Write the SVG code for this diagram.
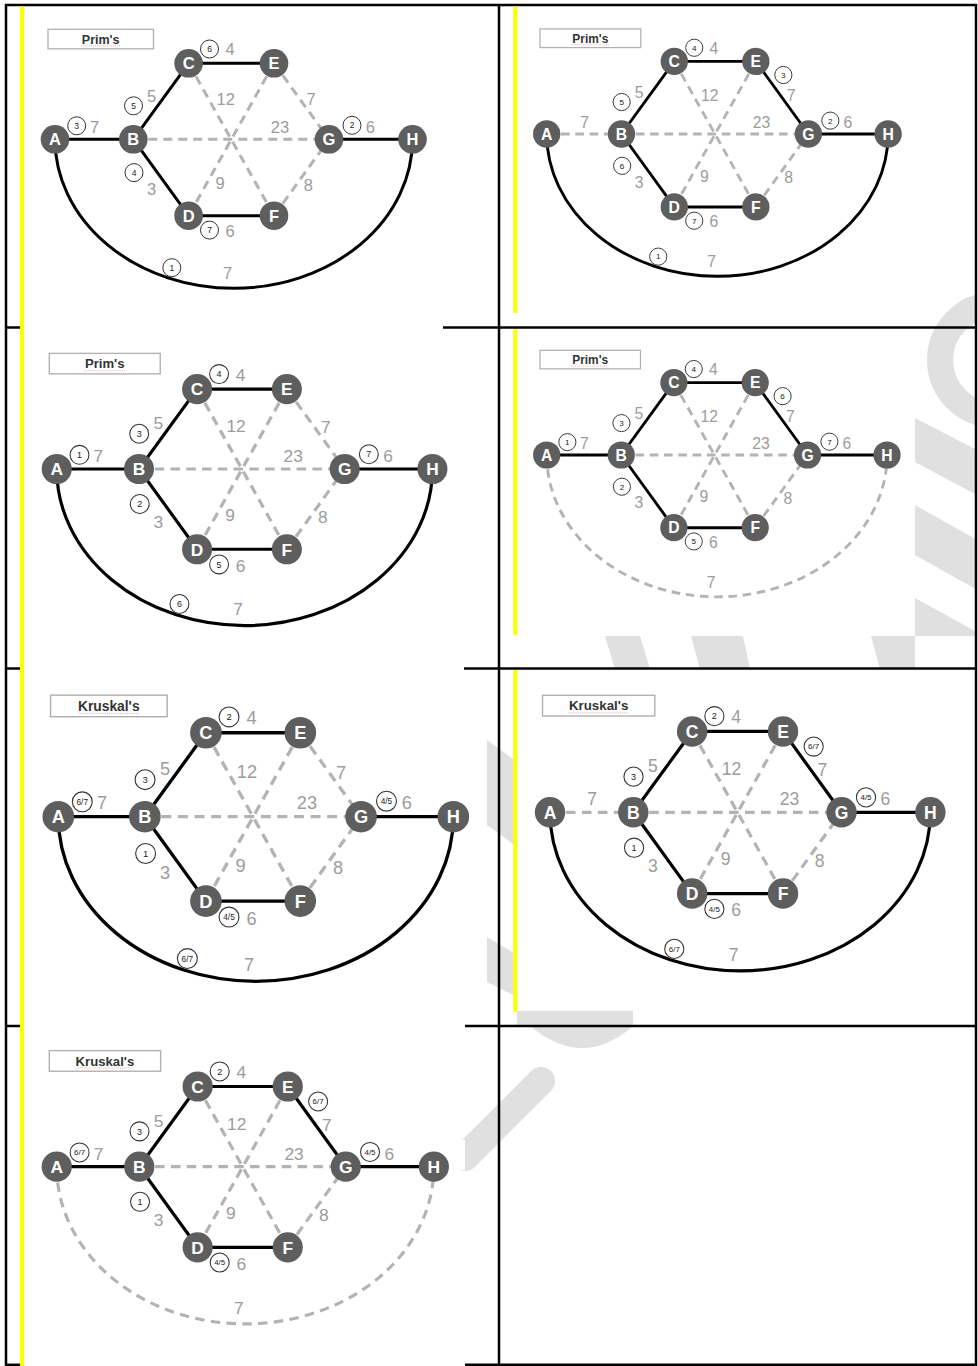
<svg xmlns="http://www.w3.org/2000/svg" width="978" height="1366" viewBox="0 0 978 1366">
<style>
.tb{stroke:#000;stroke-width:2.5;fill:none}
.yl{fill:#ffff00}
.wm{fill:#e0e0e0}
.s{stroke:#000;stroke-width:3;fill:none}
.d{stroke:#b3b3b3;stroke-width:3;stroke-dasharray:9 6;fill:none}
.n circle{fill:#5e5e5e}
.n text{fill:#fff;font-family:'Liberation Sans',Arial,sans-serif;font-weight:bold;font-size:16.5px;text-anchor:middle}
.w{fill:#9c9c9c;font-family:'Liberation Sans',Arial,sans-serif;font-size:16.5px;text-anchor:middle}
.k circle{fill:#fff;stroke:#333;stroke-width:1}
.k text{fill:#222;font-family:'Liberation Sans',Arial,sans-serif;font-size:8.5px;text-anchor:middle}
.k text.f{font-size:7.5px}
.bx rect{fill:#fff;stroke:#b0b0b0;stroke-width:1.3}
.bx text{fill:#333;font-family:'Liberation Sans',Arial,sans-serif;font-weight:bold;font-size:12.5px;text-anchor:middle}
.bx line{stroke:#e8a0a0;stroke-width:0.8;stroke-dasharray:1 1}
</style>
<defs>
<clipPath id="wmclip"><rect x="0" y="0" width="975" height="1366"/></clipPath>
</defs>
<rect width="978" height="1366" fill="#fff"/>
<g id="watermark" clip-path="url(#wmclip)">
<path d="M995,305 A55,55 0 1 0 995,415" fill="none" stroke="#e0e0e0" stroke-width="26"/>
<polygon class="wm" points="915,418 977,450 977,495 915,462"/>
<polygon class="wm" points="915,505 977,540 977,590 915,555"/>
<polygon class="wm" points="915,598 977,632 977,636 915,636"/>
<polygon class="wm" points="605,636 640,636 650,669 615,669"/>
<polygon class="wm" points="691,636 743,636 750,669 700,669"/>
<polygon class="wm" points="871,636 915,636 915,669 880,669"/>
<polygon class="wm" points="487,740 517,762 517,847 487,825"/>
<polygon class="wm" points="487,937 517,955 517,997 487,982"/>
<path class="wm" d="M517,1011 L633,1011 L633,1026 Q583,1070 530,1026 L517,1026 Z"/>
<path d="M541,1081 L465,1157" fill="none" stroke="#e0e0e0" stroke-width="28" stroke-linecap="round"/>
<rect x="440" y="1140" width="25" height="30" fill="#fff"/>
</g>
<g id="table">
<line class="tb" x1="5" y1="5" x2="977" y2="5"/>
<line class="tb" x1="6" y1="4" x2="6" y2="1366"/>
<line class="tb" x1="499" y1="4" x2="499" y2="1366"/>
<line class="tb" x1="976" y1="4" x2="976" y2="1366"/>
<line class="tb" x1="5" y1="327.5" x2="24" y2="327.5"/>
<line class="tb" x1="443" y1="327.5" x2="977" y2="327.5"/>
<line class="tb" x1="5" y1="668.5" x2="24" y2="668.5"/>
<line class="tb" x1="464" y1="668.5" x2="977" y2="668.5"/>
<line class="tb" x1="5" y1="1026" x2="24" y2="1026"/>
<line class="tb" x1="465" y1="1026" x2="977" y2="1026"/>
<line class="tb" x1="5" y1="1364.8" x2="24" y2="1364.8"/>
<line class="tb" x1="465" y1="1364.8" x2="977" y2="1364.8"/>
</g>
<g id="highlights">
<rect class="yl" x="20" y="6.5" width="4" height="1360"/>
<rect class="yl" x="513.3" y="6.5" width="4" height="306.5"/>
<rect class="yl" x="513.3" y="329" width="4" height="306"/>
<rect class="yl" x="513.3" y="670" width="4" height="342"/>
</g>

<g id="g1" transform="translate(55,139.3)">
<g class="bx"><rect x="-7" y="-110" width="105.5" height="19.5"/><text x="45.7" y="-95.8">Prim's</text><line x1="26" y1="-93.5" x2="65" y2="-93.5"/></g>
<g id="g1-connectors">
<path class="d" d="M133.6,-76L219,76.4M219,-76L133.6,76.4M78.3,0L274,0M219,-76L274,0M219,76.4L274,0"/>
<path class="s" d="M0,0L78.3,0M78.3,0L133.6,-76M78.3,0L133.6,76.4M133.6,-76L219,-76M133.6,76.4L219,76.4M274,0L357.5,0M0,0A178.75,149 0 0 0 357.5,0"/>
</g>
<g class="w"><text x="175" y="-84.2">4</text><text x="96.7" y="-37.8">5</text><text x="39.7" y="-6.7">7</text><text x="170.7" y="-34.8">12</text><text x="256" y="-34.2">7</text><text x="225" y="-6.7">23</text><text x="315.3" y="-6.7">6</text><text x="96.7" y="56.1">3</text><text x="165" y="49.8">9</text><text x="253.3" y="51.8">8</text><text x="175" y="97.8">6</text><text x="172.7" y="139.3">7</text></g>
<g class="k"><circle cx="154.5" cy="-90.3" r="9"/><text x="154.5" y="-87.3">6</text><circle cx="78.5" cy="-33.5" r="9"/><text x="78.5" y="-30.5">5</text><circle cx="21.7" cy="-13.5" r="9"/><text x="21.7" y="-10.5">3</text><circle cx="297" cy="-14" r="9"/><text x="297" y="-11">2</text><circle cx="79" cy="33.3" r="9"/><text x="79" y="36.3">4</text><circle cx="154.5" cy="90.8" r="9"/><text x="154.5" y="93.8">7</text><circle cx="116.8" cy="128.4" r="9"/><text x="116.8" y="131.4">1</text></g>
<g id="g1-A" class="n"><circle cx="0" cy="0" r="14.3"/><text x="0" y="6">A</text></g>
<g id="g1-B" class="n"><circle cx="78.3" cy="0" r="14.3"/><text x="78.3" y="6">B</text></g>
<g id="g1-C" class="n"><circle cx="133.6" cy="-76" r="14.3"/><text x="133.6" y="-70">C</text></g>
<g id="g1-E" class="n"><circle cx="219" cy="-76" r="14.3"/><text x="219" y="-70">E</text></g>
<g id="g1-D" class="n"><circle cx="133.6" cy="76.4" r="14.3"/><text x="133.6" y="82.4">D</text></g>
<g id="g1-F" class="n"><circle cx="219" cy="76.4" r="14.3"/><text x="219" y="82.4">F</text></g>
<g id="g1-G" class="n"><circle cx="274" cy="0" r="14.3"/><text x="274" y="6">G</text></g>
<g id="g1-H" class="n"><circle cx="357.5" cy="0" r="14.3"/><text x="357.5" y="6">H</text></g>
</g>

<g id="g2" transform="translate(546.7,134) scale(0.955)">
<g class="bx"><rect x="-7" y="-110" width="105.5" height="19.5"/><text x="45.7" y="-95.8">Prim's</text><line x1="26" y1="-93.5" x2="65" y2="-93.5"/></g>
<g id="g2-connectors">
<path class="d" d="M0,0L78.3,0M133.6,-76L219,76.4M219,-76L133.6,76.4M78.3,0L274,0M219,76.4L274,0"/>
<path class="s" d="M78.3,0L133.6,-76M78.3,0L133.6,76.4M133.6,-76L219,-76M133.6,76.4L219,76.4M219,-76L274,0M274,0L357.5,0M0,0A178.75,149 0 0 0 357.5,0"/>
</g>
<g class="w"><text x="175" y="-84.2">4</text><text x="96.7" y="-37.8">5</text><text x="39.7" y="-6.7">7</text><text x="170.7" y="-34.8">12</text><text x="256" y="-34.2">7</text><text x="225" y="-6.7">23</text><text x="315.3" y="-6.7">6</text><text x="96.7" y="56.1">3</text><text x="165" y="49.8">9</text><text x="253.3" y="51.8">8</text><text x="175" y="97.8">6</text><text x="172.7" y="139.3">7</text></g>
<g class="k"><circle cx="154.5" cy="-90.3" r="9"/><text x="154.5" y="-87.3">4</text><circle cx="247.8" cy="-61.8" r="9"/><text x="247.8" y="-58.8">3</text><circle cx="78.5" cy="-33.5" r="9"/><text x="78.5" y="-30.5">5</text><circle cx="297" cy="-14" r="9"/><text x="297" y="-11">2</text><circle cx="79" cy="33.3" r="9"/><text x="79" y="36.3">6</text><circle cx="154.5" cy="90.8" r="9"/><text x="154.5" y="93.8">7</text><circle cx="116.8" cy="128.4" r="9"/><text x="116.8" y="131.4">1</text></g>
<g id="g2-A" class="n"><circle cx="0" cy="0" r="14.3"/><text x="0" y="6">A</text></g>
<g id="g2-B" class="n"><circle cx="78.3" cy="0" r="14.3"/><text x="78.3" y="6">B</text></g>
<g id="g2-C" class="n"><circle cx="133.6" cy="-76" r="14.3"/><text x="133.6" y="-70">C</text></g>
<g id="g2-E" class="n"><circle cx="219" cy="-76" r="14.3"/><text x="219" y="-70">E</text></g>
<g id="g2-D" class="n"><circle cx="133.6" cy="76.4" r="14.3"/><text x="133.6" y="82.4">D</text></g>
<g id="g2-F" class="n"><circle cx="219" cy="76.4" r="14.3"/><text x="219" y="82.4">F</text></g>
<g id="g2-G" class="n"><circle cx="274" cy="0" r="14.3"/><text x="274" y="6">G</text></g>
<g id="g2-H" class="n"><circle cx="357.5" cy="0" r="14.3"/><text x="357.5" y="6">H</text></g>
</g>

<g id="g3" transform="translate(56.7,469) scale(1.051)">
<g class="bx"><rect x="-7" y="-110" width="105.5" height="19.5"/><text x="45.7" y="-95.8">Prim's</text><line x1="26" y1="-93.5" x2="65" y2="-93.5"/></g>
<g id="g3-connectors">
<path class="d" d="M133.6,-76L219,76.4M219,-76L133.6,76.4M78.3,0L274,0M219,-76L274,0M219,76.4L274,0"/>
<path class="s" d="M0,0L78.3,0M78.3,0L133.6,-76M78.3,0L133.6,76.4M133.6,-76L219,-76M133.6,76.4L219,76.4M274,0L357.5,0M0,0A178.75,149 0 0 0 357.5,0"/>
</g>
<g class="w"><text x="175" y="-84.2">4</text><text x="96.7" y="-37.8">5</text><text x="39.7" y="-6.7">7</text><text x="170.7" y="-34.8">12</text><text x="256" y="-34.2">7</text><text x="225" y="-6.7">23</text><text x="315.3" y="-6.7">6</text><text x="96.7" y="56.1">3</text><text x="165" y="49.8">9</text><text x="253.3" y="51.8">8</text><text x="175" y="97.8">6</text><text x="172.7" y="139.3">7</text></g>
<g class="k"><circle cx="154.5" cy="-90.3" r="9"/><text x="154.5" y="-87.3">4</text><circle cx="78.5" cy="-33.5" r="9"/><text x="78.5" y="-30.5">3</text><circle cx="21.7" cy="-13.5" r="9"/><text x="21.7" y="-10.5">1</text><circle cx="297" cy="-14" r="9"/><text x="297" y="-11">7</text><circle cx="79" cy="33.3" r="9"/><text x="79" y="36.3">2</text><circle cx="154.5" cy="90.8" r="9"/><text x="154.5" y="93.8">5</text><circle cx="116.8" cy="128.4" r="9"/><text x="116.8" y="131.4">6</text></g>
<g id="g3-A" class="n"><circle cx="0" cy="0" r="14.3"/><text x="0" y="6">A</text></g>
<g id="g3-B" class="n"><circle cx="78.3" cy="0" r="14.3"/><text x="78.3" y="6">B</text></g>
<g id="g3-C" class="n"><circle cx="133.6" cy="-76" r="14.3"/><text x="133.6" y="-70">C</text></g>
<g id="g3-E" class="n"><circle cx="219" cy="-76" r="14.3"/><text x="219" y="-70">E</text></g>
<g id="g3-D" class="n"><circle cx="133.6" cy="76.4" r="14.3"/><text x="133.6" y="82.4">D</text></g>
<g id="g3-F" class="n"><circle cx="219" cy="76.4" r="14.3"/><text x="219" y="82.4">F</text></g>
<g id="g3-G" class="n"><circle cx="274" cy="0" r="14.3"/><text x="274" y="6">G</text></g>
<g id="g3-H" class="n"><circle cx="357.5" cy="0" r="14.3"/><text x="357.5" y="6">H</text></g>
</g>

<g id="g4" transform="translate(546.7,455) scale(0.952)">
<g class="bx"><rect x="-7" y="-110" width="105.5" height="19.5"/><text x="45.7" y="-95.8">Prim's</text><line x1="26" y1="-93.5" x2="65" y2="-93.5"/></g>
<g id="g4-connectors">
<path class="d" d="M133.6,-76L219,76.4M219,-76L133.6,76.4M78.3,0L274,0M219,76.4L274,0M0,0A178.75,149 0 0 0 357.5,0"/>
<path class="s" d="M0,0L78.3,0M78.3,0L133.6,-76M78.3,0L133.6,76.4M133.6,-76L219,-76M133.6,76.4L219,76.4M219,-76L274,0M274,0L357.5,0"/>
</g>
<g class="w"><text x="175" y="-84.2">4</text><text x="96.7" y="-37.8">5</text><text x="39.7" y="-6.7">7</text><text x="170.7" y="-34.8">12</text><text x="256" y="-34.2">7</text><text x="225" y="-6.7">23</text><text x="315.3" y="-6.7">6</text><text x="96.7" y="56.1">3</text><text x="165" y="49.8">9</text><text x="253.3" y="51.8">8</text><text x="175" y="97.8">6</text><text x="172.7" y="139.3">7</text></g>
<g class="k"><circle cx="154.5" cy="-90.3" r="9"/><text x="154.5" y="-87.3">4</text><circle cx="247.8" cy="-61.8" r="9"/><text x="247.8" y="-58.8">6</text><circle cx="78.5" cy="-33.5" r="9"/><text x="78.5" y="-30.5">3</text><circle cx="21.7" cy="-13.5" r="9"/><text x="21.7" y="-10.5">1</text><circle cx="297" cy="-14" r="9"/><text x="297" y="-11">7</text><circle cx="79" cy="33.3" r="9"/><text x="79" y="36.3">2</text><circle cx="154.5" cy="90.8" r="9"/><text x="154.5" y="93.8">5</text></g>
<g id="g4-A" class="n"><circle cx="0" cy="0" r="14.3"/><text x="0" y="6">A</text></g>
<g id="g4-B" class="n"><circle cx="78.3" cy="0" r="14.3"/><text x="78.3" y="6">B</text></g>
<g id="g4-C" class="n"><circle cx="133.6" cy="-76" r="14.3"/><text x="133.6" y="-70">C</text></g>
<g id="g4-E" class="n"><circle cx="219" cy="-76" r="14.3"/><text x="219" y="-70">E</text></g>
<g id="g4-D" class="n"><circle cx="133.6" cy="76.4" r="14.3"/><text x="133.6" y="82.4">D</text></g>
<g id="g4-F" class="n"><circle cx="219" cy="76.4" r="14.3"/><text x="219" y="82.4">F</text></g>
<g id="g4-G" class="n"><circle cx="274" cy="0" r="14.3"/><text x="274" y="6">G</text></g>
<g id="g4-H" class="n"><circle cx="357.5" cy="0" r="14.3"/><text x="357.5" y="6">H</text></g>
</g>

<g id="g5" transform="translate(58.3,816.7) scale(1.105)">
<g class="bx"><rect x="-7" y="-110" width="105.5" height="19.5"/><text x="45.7" y="-95.8">Kruskal's</text><line x1="18" y1="-93.5" x2="73" y2="-93.5"/></g>
<g id="g5-connectors">
<path class="d" d="M133.6,-76L219,76.4M219,-76L133.6,76.4M78.3,0L274,0M219,-76L274,0M219,76.4L274,0"/>
<path class="s" d="M0,0L78.3,0M78.3,0L133.6,-76M78.3,0L133.6,76.4M133.6,-76L219,-76M133.6,76.4L219,76.4M274,0L357.5,0M0,0A178.75,149 0 0 0 357.5,0"/>
</g>
<g class="w"><text x="175" y="-84.2">4</text><text x="96.7" y="-37.8">5</text><text x="39.7" y="-6.7">7</text><text x="170.7" y="-34.8">12</text><text x="256" y="-34.2">7</text><text x="225" y="-6.7">23</text><text x="315.3" y="-6.7">6</text><text x="96.7" y="56.1">3</text><text x="165" y="49.8">9</text><text x="253.3" y="51.8">8</text><text x="175" y="97.8">6</text><text x="172.7" y="139.3">7</text></g>
<g class="k"><circle cx="154.5" cy="-90.3" r="9"/><text x="154.5" y="-87.3">2</text><circle cx="78.5" cy="-33.5" r="9"/><text x="78.5" y="-30.5">3</text><circle cx="21.7" cy="-13.5" r="9"/><text class="f" x="21.7" y="-10.8">6/7</text><circle cx="297" cy="-14" r="9"/><text class="f" x="297" y="-11.3">4/5</text><circle cx="79" cy="33.3" r="9"/><text x="79" y="36.3">1</text><circle cx="154.5" cy="90.8" r="9"/><text class="f" x="154.5" y="93.5">4/5</text><circle cx="116.8" cy="128.4" r="9"/><text class="f" x="116.8" y="131.1">6/7</text></g>
<g id="g5-A" class="n"><circle cx="0" cy="0" r="14.3"/><text x="0" y="6">A</text></g>
<g id="g5-B" class="n"><circle cx="78.3" cy="0" r="14.3"/><text x="78.3" y="6">B</text></g>
<g id="g5-C" class="n"><circle cx="133.6" cy="-76" r="14.3"/><text x="133.6" y="-70">C</text></g>
<g id="g5-E" class="n"><circle cx="219" cy="-76" r="14.3"/><text x="219" y="-70">E</text></g>
<g id="g5-D" class="n"><circle cx="133.6" cy="76.4" r="14.3"/><text x="133.6" y="82.4">D</text></g>
<g id="g5-F" class="n"><circle cx="219" cy="76.4" r="14.3"/><text x="219" y="82.4">F</text></g>
<g id="g5-G" class="n"><circle cx="274" cy="0" r="14.3"/><text x="274" y="6">G</text></g>
<g id="g5-H" class="n"><circle cx="357.5" cy="0" r="14.3"/><text x="357.5" y="6">H</text></g>
</g>

<g id="g6" transform="translate(550,812.3) scale(1.064)">
<g class="bx"><rect x="-7" y="-110" width="105.5" height="19.5"/><text x="45.7" y="-95.8">Kruskal's</text><line x1="18" y1="-93.5" x2="73" y2="-93.5"/></g>
<g id="g6-connectors">
<path class="d" d="M0,0L78.3,0M133.6,-76L219,76.4M219,-76L133.6,76.4M78.3,0L274,0M219,76.4L274,0"/>
<path class="s" d="M78.3,0L133.6,-76M78.3,0L133.6,76.4M133.6,-76L219,-76M133.6,76.4L219,76.4M219,-76L274,0M274,0L357.5,0M0,0A178.75,149 0 0 0 357.5,0"/>
</g>
<g class="w"><text x="175" y="-84.2">4</text><text x="96.7" y="-37.8">5</text><text x="39.7" y="-6.7">7</text><text x="170.7" y="-34.8">12</text><text x="256" y="-34.2">7</text><text x="225" y="-6.7">23</text><text x="315.3" y="-6.7">6</text><text x="96.7" y="56.1">3</text><text x="165" y="49.8">9</text><text x="253.3" y="51.8">8</text><text x="175" y="97.8">6</text><text x="172.7" y="139.3">7</text></g>
<g class="k"><circle cx="154.5" cy="-90.3" r="9"/><text x="154.5" y="-87.3">2</text><circle cx="247.8" cy="-61.8" r="9"/><text class="f" x="247.8" y="-59.1">6/7</text><circle cx="78.5" cy="-33.5" r="9"/><text x="78.5" y="-30.5">3</text><circle cx="297" cy="-14" r="9"/><text class="f" x="297" y="-11.3">4/5</text><circle cx="79" cy="33.3" r="9"/><text x="79" y="36.3">1</text><circle cx="154.5" cy="90.8" r="9"/><text class="f" x="154.5" y="93.5">4/5</text><circle cx="116.8" cy="128.4" r="9"/><text class="f" x="116.8" y="131.1">6/7</text></g>
<g id="g6-A" class="n"><circle cx="0" cy="0" r="14.3"/><text x="0" y="6">A</text></g>
<g id="g6-B" class="n"><circle cx="78.3" cy="0" r="14.3"/><text x="78.3" y="6">B</text></g>
<g id="g6-C" class="n"><circle cx="133.6" cy="-76" r="14.3"/><text x="133.6" y="-70">C</text></g>
<g id="g6-E" class="n"><circle cx="219" cy="-76" r="14.3"/><text x="219" y="-70">E</text></g>
<g id="g6-D" class="n"><circle cx="133.6" cy="76.4" r="14.3"/><text x="133.6" y="82.4">D</text></g>
<g id="g6-F" class="n"><circle cx="219" cy="76.4" r="14.3"/><text x="219" y="82.4">F</text></g>
<g id="g6-G" class="n"><circle cx="274" cy="0" r="14.3"/><text x="274" y="6">G</text></g>
<g id="g6-H" class="n"><circle cx="357.5" cy="0" r="14.3"/><text x="357.5" y="6">H</text></g>
</g>

<g id="g7" transform="translate(56.7,1166.7) scale(1.055)">
<g class="bx"><rect x="-7" y="-110" width="105.5" height="19.5"/><text x="45.7" y="-95.8">Kruskal's</text><line x1="18" y1="-93.5" x2="73" y2="-93.5"/></g>
<g id="g7-connectors">
<path class="d" d="M133.6,-76L219,76.4M219,-76L133.6,76.4M78.3,0L274,0M219,76.4L274,0M0,0A178.75,149 0 0 0 357.5,0"/>
<path class="s" d="M0,0L78.3,0M78.3,0L133.6,-76M78.3,0L133.6,76.4M133.6,-76L219,-76M133.6,76.4L219,76.4M219,-76L274,0M274,0L357.5,0"/>
</g>
<g class="w"><text x="175" y="-84.2">4</text><text x="96.7" y="-37.8">5</text><text x="39.7" y="-6.7">7</text><text x="170.7" y="-34.8">12</text><text x="256" y="-34.2">7</text><text x="225" y="-6.7">23</text><text x="315.3" y="-6.7">6</text><text x="96.7" y="56.1">3</text><text x="165" y="49.8">9</text><text x="253.3" y="51.8">8</text><text x="175" y="97.8">6</text><text x="172.7" y="139.3">7</text></g>
<g class="k"><circle cx="154.5" cy="-90.3" r="9"/><text x="154.5" y="-87.3">2</text><circle cx="247.8" cy="-61.8" r="9"/><text class="f" x="247.8" y="-59.1">6/7</text><circle cx="78.5" cy="-33.5" r="9"/><text x="78.5" y="-30.5">3</text><circle cx="21.7" cy="-13.5" r="9"/><text class="f" x="21.7" y="-10.8">6/7</text><circle cx="297" cy="-14" r="9"/><text class="f" x="297" y="-11.3">4/5</text><circle cx="79" cy="33.3" r="9"/><text x="79" y="36.3">1</text><circle cx="154.5" cy="90.8" r="9"/><text class="f" x="154.5" y="93.5">4/5</text></g>
<g id="g7-A" class="n"><circle cx="0" cy="0" r="14.3"/><text x="0" y="6">A</text></g>
<g id="g7-B" class="n"><circle cx="78.3" cy="0" r="14.3"/><text x="78.3" y="6">B</text></g>
<g id="g7-C" class="n"><circle cx="133.6" cy="-76" r="14.3"/><text x="133.6" y="-70">C</text></g>
<g id="g7-E" class="n"><circle cx="219" cy="-76" r="14.3"/><text x="219" y="-70">E</text></g>
<g id="g7-D" class="n"><circle cx="133.6" cy="76.4" r="14.3"/><text x="133.6" y="82.4">D</text></g>
<g id="g7-F" class="n"><circle cx="219" cy="76.4" r="14.3"/><text x="219" y="82.4">F</text></g>
<g id="g7-G" class="n"><circle cx="274" cy="0" r="14.3"/><text x="274" y="6">G</text></g>
<g id="g7-H" class="n"><circle cx="357.5" cy="0" r="14.3"/><text x="357.5" y="6">H</text></g>
</g>
</svg>
